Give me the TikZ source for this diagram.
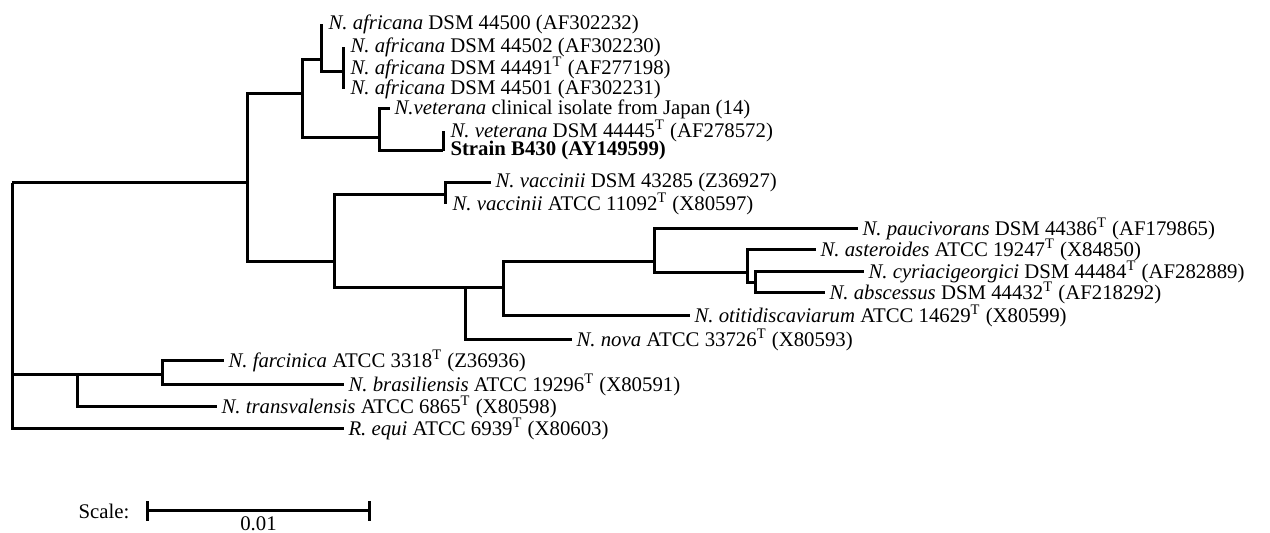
\documentclass[tikz,border=0pt]{standalone}
\usepackage{fontspec}
\setmainfont{Liberation Serif}
\newcommand{\typ}{\textsuperscript{T}}

\begin{document}
\begin{tikzpicture}[x=.5pt,y=-.5pt,line width=1.5pt,
  every node/.style={inner sep=0pt,font=\fontsize{10.4}{12}\selectfont},
  leaf/.style={anchor=west,inner xsep=1.5pt},
  zleaf/.style={leaf,inner xsep=3pt}]
\useasboundingbox (0,0) rectangle (1270,533);
\coordinate (R) at (12,183);\coordinate (A) at (247,183);
\coordinate (B) at (302,94);\coordinate (C) at (334,262);
\coordinate (D) at (321,60);\coordinate (E) at (379,138);
\coordinate (F) at (343,72);\coordinate (G) at (443,151);
\coordinate (H) at (445,195);\coordinate (I) at (465,288);
\coordinate (J) at (503,288);\coordinate (K) at (654,262);
\coordinate (L) at (747,273);\coordinate (M) at (755,283);
\coordinate (N) at (77,375);\coordinate (O) at (162,375);
\node[zleaf] (afr500) at (321,24) {\textit{N. africana} DSM 44500 (AF302232)};
\node[zleaf] (afr502) at (343,47) {\textit{N. africana} DSM 44502 (AF302230)};
\node[zleaf] (afr491) at (343,68) {\textit{N. africana} DSM 44491\typ{} (AF277198)};
\node[zleaf] (afr501) at (343,89) {\textit{N. africana} DSM 44501 (AF302231)};
\node[leaf] (vetjp) at (390,109) {\textit{N.veterana} clinical isolate from Japan (14)};
\node[zleaf] (vetdsm) at (443,131) {\textit{N. veterana} DSM 44445\typ{} (AF278572)};
\node[zleaf] (b430) at (443,151) {\textbf{Strain B430 (AY149599)}};
\node[leaf] (vacdsm) at (491,183) {\textit{N. vaccinii} DSM 43285 (Z36927)};
\node[zleaf] (vacatcc) at (445,204) {\textit{N. vaccinii} ATCC 11092\typ{} (X80597)};
\node[leaf] (pauc) at (858,229) {\textit{N. paucivorans} DSM 44386\typ{} (AF179865)};
\node[leaf] (aster) at (816,250) {\textit{N. asteroides} ATCC 19247\typ{} (X84850)};
\node[leaf] (cyr) at (864,272) {\textit{N. cyriacigeorgici} DSM 44484\typ{} (AF282889)};
\node[leaf] (absc) at (825,293) {\textit{N. abscessus} DSM 44432\typ{} (AF218292)};
\node[leaf] (otit) at (690,316) {\textit{N. otitidiscaviarum} ATCC 14629\typ{} (X80599)};
\node[leaf] (nova) at (572,340) {\textit{N. nova} ATCC 33726\typ{} (X80593)};
\node[leaf] (farc) at (224,361) {\textit{N. farcinica} ATCC 3318\typ{} (Z36936)};
\node[leaf] (bras) at (344,385) {\textit{N. brasiliensis} ATCC 19296\typ{} (X80591)};
\node[leaf] (trans) at (217,407) {\textit{N. transvalensis} ATCC 6865\typ{} (X80598)};
\node[leaf] (requi) at (344,429) {\textit{R. equi} ATCC 6939\typ{} (X80603)};
\draw (R)|-(A) (R)|-(N) (R)|-(requi.west)
  (A)|-(B) (A)|-(C) (B)|-(D) (B)|-(E)
  (D)|-(afr500.west) (D)|-(F) (F)|-(afr502.west) (F)|-(afr491.west) (F)|-(afr501.west)
  (E)|-(vetjp.west) (E)|-(G) (G)|-(vetdsm.west) (G)|-(b430.west)
  (C)|-(H) (C)|-(I) (H)|-(vacdsm.west) (H)|-(vacatcc.west)
  (I)|-(J) (I)|-(nova.west) (J)|-(K) (J)|-(otit.west)
  (K)|-(pauc.west) (K)|-(L) (L)|-(aster.west) (L)|-(M) (M)|-(cyr.west) (M)|-(absc.west)
  (N)|-(O) (N)|-(trans.west) (O)|-(farc.west) (O)|-(bras.west);
\node[anchor=east] (scl) at (131,511) {Scale:};
\coordinate (s1) at (146,511);\coordinate (s2) at (371,511);
\draw[|-|] (s1)--(s2) node[midway,below=2pt] (sval) {0.01};
\end{tikzpicture}
\end{document}
